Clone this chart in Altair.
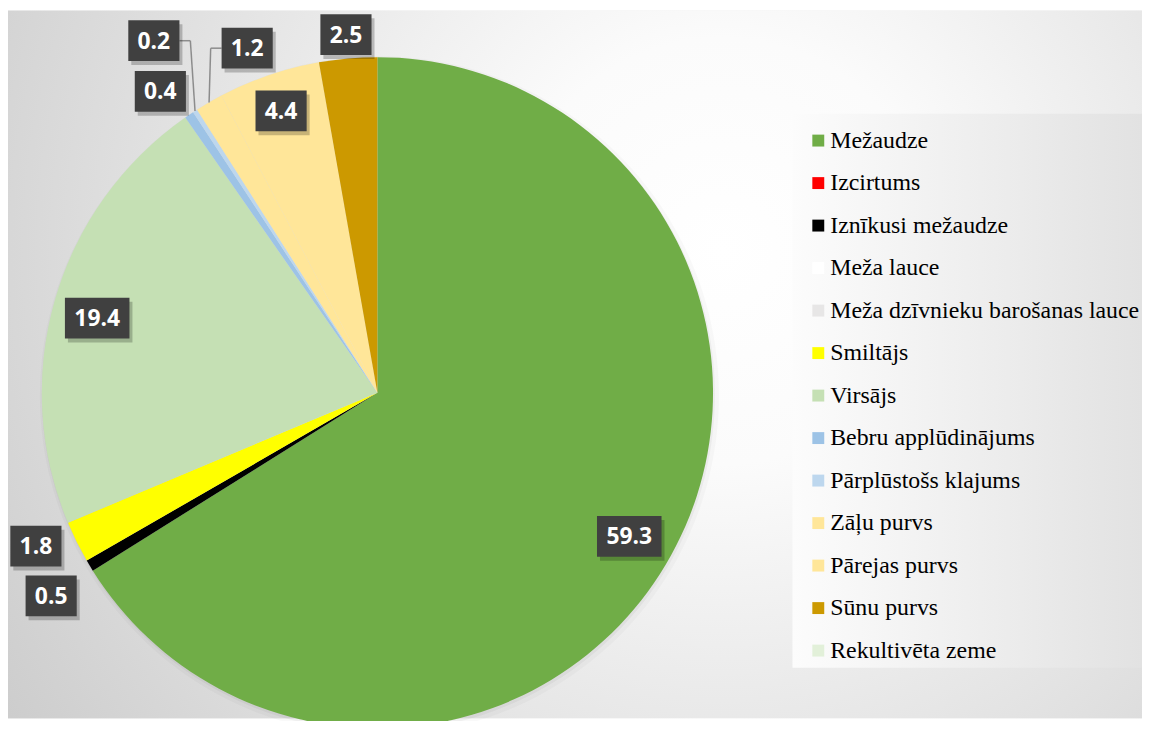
import altair as alt
import pandas as pd

# ---------------- data ----------------
categories = [
    "Mežaudze", "Izcirtums", "Iznīkusi mežaudze", "Meža lauce",
    "Meža dzīvnieku barošanas lauce", "Smiltājs", "Virsājs",
    "Bebru applūdinājums", "Pārplūstošs klajums", "Zāļu purvs",
    "Pārejas purvs", "Sūnu purvs", "Rekultivēta zeme",
]
values = [59.3, 0.0, 0.5, 0.0, 0.0, 1.8, 19.4, 0.4, 0.2, 1.2, 4.4, 2.5, 0.0]
colors = [
    "#70AD47", "#FF0000", "#000000", "#FFFFFF", "#E7E6E6", "#FFFF00",
    "#C5E0B4", "#9DC3E6", "#BDD7EE", "#FFE699", "#FFE699", "#CC9900",
    "#E2F0D9",
]

# ---------------- layout (not data) ----------------
CX, CY, R = 372, 385, 338
# label radius (px), angular nudge (deg), leader side
label_layout = {
    "Mežaudze": (292, 0.7, ""),
    "Iznīkusi mežaudze": (387, -0.9, ""),
    "Smiltājs": (377, 2.2, ""),
    "Virsājs": (292, -1.25, ""),
    "Bebru applūdinājums": (374, -1.65, ""),
    "Pārplūstošs klajums": (420, 0.5, "right"),
    "Zāļu purvs": (371, 9.4, "left"),
    "Pārejas purvs": (300, 0.0, ""),
    "Sūnu purvs": (362, 0.0, ""),
}

df = pd.DataFrame({"cat": categories, "value": values, "order": list(range(len(categories)))})
df["lr"] = [label_layout.get(c, (0, 0, ""))[0] for c in categories]
df["nudge"] = [label_layout.get(c, (0, 0, ""))[1] for c in categories]
df["side"] = [label_layout.get(c, (0, 0, ""))[2] for c in categories]

W, H = 1142, 713
SERIF = "Liberation Serif, Times New Roman, Times, DejaVu Serif, serif"

bg = alt.Chart(alt.Data(values=[{"a": 1}])).mark_rect(
    fill={
        "gradient": "radial",
        "x1": 0.63, "y1": 0.4, "x2": 0.63, "y2": 0.4,
        "r1": 0.0, "r2": 0.75,
        "stops": [
            {"offset": 0.0, "color": "#ffffff"},
            {"offset": 0.25, "color": "#fbfbfb"},
            {"offset": 1.0, "color": "#cdcdcd"},
        ],
    }
).encode(x=alt.value(0), x2=alt.value(W), y=alt.value(0), y2=alt.value(H))

legbox = alt.Chart(alt.Data(values=[{"a": 1}])).mark_rect(
    fill={
        "gradient": "linear",
        "x1": 0, "y1": 0, "x2": 1, "y2": 0,
        "stops": [
            {"offset": 0.0, "color": "#fcfcfc"},
            {"offset": 1.0, "color": "#e2e2e2"},
        ],
    }
).encode(x=alt.value(790), x2=alt.value(W), y=alt.value(104), y2=alt.value(662))

base = alt.Chart(df)

shadow = base.mark_arc(outerRadius=R + 4, x=CX + 2, y=CY + 3, color="#000000", opacity=0.025).encode(
    theta=alt.Theta("value:Q", stack=True), order=alt.Order("order:Q")
)
shadow2 = base.mark_arc(outerRadius=R + 1, x=CX + 1, y=CY + 2, color="#000000", opacity=0.04).encode(
    theta=alt.Theta("value:Q", stack=True), order=alt.Order("order:Q")
)

pie = base.mark_arc(outerRadius=R, x=CX, y=CY).encode(
    theta=alt.Theta("value:Q", stack=True),
    order=alt.Order("order:Q"),
    color=alt.Color(
        "cat:N",
        sort=categories,
        scale=alt.Scale(domain=categories, range=colors),
        legend=alt.Legend(
            title=None,
            orient="none",
            legendX=804,
            legendY=119,
            symbolType="square",
            symbolSize=144,
            symbolStrokeWidth=0,
            labelFont=SERIF,
            labelFontSize=24,
            labelColor="#000000",
            labelOffset=0,
            labelLimit=400,
            rowPadding=18.8,
            padding=0,
        ),
    ),
)

lab = (
    base.transform_joinaggregate(total="sum(value)")
    .transform_window(cum="sum(value)", sort=[alt.SortField("order")], frame=[None, 0])
    .transform_filter("datum.value > 0")
    .transform_calculate(
        ang="(datum.cum - datum.value/2) / datum.total * 2 * PI",
    )
    .transform_calculate(
        la="datum.ang + datum.nudge * PI / 180",
        txt="format(datum.value, '.1f')",
    )
    .transform_calculate(
        lx=f"{CX} + datum.lr * sin(datum.la)",
        ly=f"{CY} - datum.lr * cos(datum.la)",
        bw="13.5 * length(datum.txt) + 11",
        ex=f"{CX} + {R} * sin(datum.ang)",
        ey=f"{CY} - {R} * cos(datum.ang)",
    )
    .transform_calculate(
        bx1="datum.lx - datum.bw/2",
        bx2="datum.lx + datum.bw/2",
        by1="datum.ly - 20.5",
        by2="datum.ly + 20.5",
        sx1="datum.lx - datum.bw/2 + 3",
        sx2="datum.lx + datum.bw/2 + 3",
        sy1="datum.ly - 20.5 + 4",
        sy2="datum.ly + 20.5 + 4",
        edgex="datum.side == 'right' ? datum.lx + datum.bw/2 : datum.lx - datum.bw/2",
        elbx="datum.side == 'right' ? datum.lx + datum.bw/2 + 11 : datum.lx - datum.bw/2 - 11",
    )
)

idx = lambda f: alt.X(f + ":Q", scale=None, axis=None)
idy = lambda f: alt.Y(f + ":Q", scale=None, axis=None)

leaders = lab.transform_filter("datum.side != ''")
lead1 = leaders.mark_rule(color="#8c8c8c", strokeWidth=1.5).encode(
    x=idx("edgex"), x2=alt.X2("elbx"), y=idy("ly"), y2=alt.Y2("ly")
)
lead2 = leaders.mark_rule(color="#8c8c8c", strokeWidth=1.5).encode(
    x=idx("elbx"), x2=alt.X2("ex"), y=idy("ly"), y2=alt.Y2("ey")
)

box_shadow = lab.mark_rect(color="#000000", opacity=0.22).encode(
    x=idx("sx1"), x2=alt.X2("sx2"), y=idy("sy1"), y2=alt.Y2("sy2")
)
box = lab.mark_rect(color="#404040").encode(
    x=idx("bx1"), x2=alt.X2("bx2"), y=idy("by1"), y2=alt.Y2("by2")
)
text = lab.mark_text(
    font="Open Sans", fontWeight="bold", fontSize=23, color="#ffffff",
    align="center", baseline="middle", dy=1,
).encode(x=idx("lx"), y=idy("ly"), text="txt:N")

chart = (
    alt.layer(bg, legbox, shadow, shadow2, pie, lead1, lead2, box_shadow, box, text)
    .resolve_scale(color="independent")
    .properties(width=W, height=H, autosize=alt.AutoSizeParams(type="none"), padding=0)
    .configure_view(stroke=None)
    .configure_legend(labelFont=SERIF, labelFontSize=24)
)

chart.save("out.html", embed_options={"renderer": "svg", "actions": False})
